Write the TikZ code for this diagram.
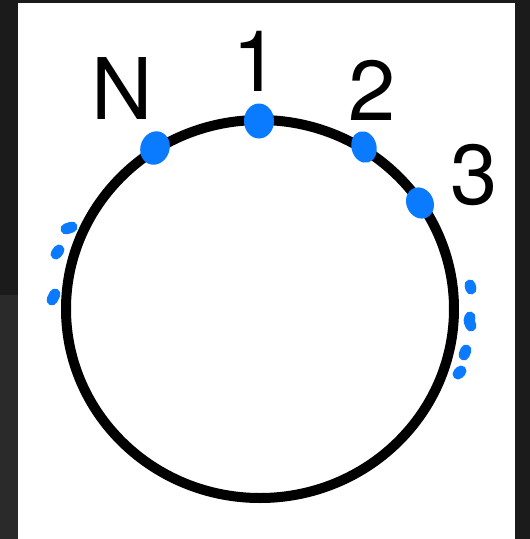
\documentclass[tikz,border=0pt]{standalone}
\usepackage{fontspec}
\setmainfont{TeX Gyre Heros}
\usetikzlibrary{shapes.geometric}
\definecolor{dotblue}{HTML}{0A7AFF}
\definecolor{darkbg}{HTML}{1B1B1B}
\definecolor{greybg}{HTML}{2A2A2A}
\tikzset{
  bigdot/.style={ellipse, fill=dotblue, inner sep=0pt},
  blob/.style={dotblue, line width=11pt, line cap=round, line join=round},
  lbl/.style={text=black, inner sep=0pt, font=\fontsize{85}{90}\selectfont}
}
\begin{document}
\begin{tikzpicture}[x=1pt, y=-1pt]
			% Background and page
			\fill[darkbg] (0,0) rectangle (530,539);
			\fill[greybg] (0,295) rectangle (18,539);
			\fill[white] (18,3) rectangle (515,539);
			\useasboundingbox (0,0) rectangle (530,539);

			% Ring
			\draw[line width=10pt] (260,309) ellipse [x radius=194, y radius=189];

			% Define nodes with their coordinates
			\node[bigdot, minimum width=29pt, minimum height=34pt, rotate=-20] (N) at (155,148) {};
			\node[bigdot, minimum width=30pt, minimum height=35pt] (one) at (259,121) {};
			\node[bigdot, minimum width=25pt, minimum height=32pt, rotate=15] (two) at (364,147) {};
			\node[bigdot, minimum width=27pt, minimum height=32pt, rotate=25] (three) at (420,203) {};

			% Labels
			\node[lbl] (labN) at (122,89) {N};
			\node[lbl] (lab1) at (256,61) {1};
			\node[lbl] (lab2) at (372,90) {2};
			\node[lbl] (lab3) at (474,175) {3};

			% Dots left of the ring
			\draw[blob] (66,229) -- (72,227);
			\draw[blob] (56,254) -- (59,250);
			\draw[blob] (52,300) -- (55,294);

			% Dots right of the ring
			\draw[blob] (470,285) -- (471,289);
			\draw[blob] (470,317) -- (469,321) -- (471,326);
			\draw[blob] (464,355) -- (466,350);
			\draw[blob] (458,374) -- (461,371);

		\end{tikzpicture}
\end{document}
